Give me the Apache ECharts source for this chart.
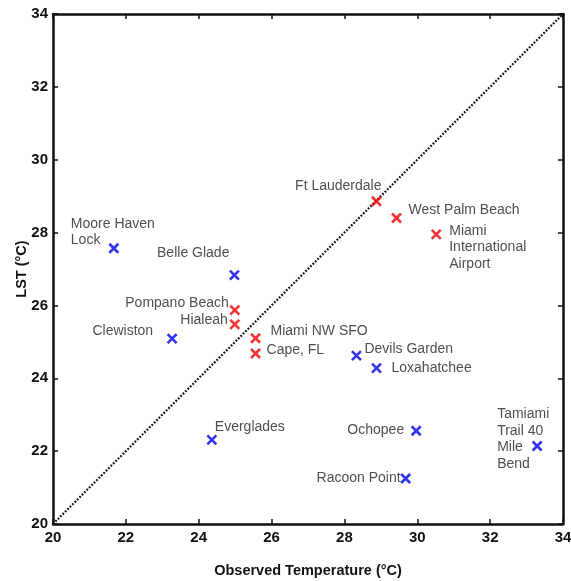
<!DOCTYPE html>
<html>
<head>
<meta charset="utf-8">
<script src="https://cdn.jsdelivr.net/npm/echarts@6/dist/echarts.min.js"></script>
<style>
html,body{margin:0;padding:0;background:#fff;}
#chart{width:571px;height:581px;}
</style>
</head>
<body>
<div id="chart"></div>
<script>
// ---- data ----
const redNames = ['Ft Lauderdale', 'West Palm Beach', 'Miami\nInternational\nAirport', 'Pompano Beach', 'Hialeah', 'Miami NW SFO', 'Cape, FL'];
const redObs   = [28.88, 29.43, 30.52, 24.99, 24.99, 25.56, 25.56];
const redLst   = [28.86, 28.40, 27.95, 25.87, 25.48, 25.10, 24.68];

const blueNames = ['Moore Haven\nLock', 'Belle Glade', 'Clewiston', 'Everglades', 'Devils Garden', 'Loxahatchee', 'Ochopee', 'Racoon Point', 'Tamiami\nTrail 40\nMile\nBend'];
const blueObs   = [21.67, 24.98, 23.27, 24.36, 28.33, 28.88, 29.97, 29.68, 33.29];
const blueLst   = [27.57, 26.83, 25.09, 22.31, 24.62, 24.28, 22.56, 21.25, 22.14];

const oneToOneX = [20, 34];
const oneToOneY = [20, 34];

const axisMin = 20, axisMax = 34, axisStep = 2;

// ---- label placement (styling only) ----
const labelPlace = {
  'Ft Lauderdale': [5, -15, 'right'],
  'West Palm Beach': [12, -8, 'left'],
  'Miami\nInternational\nAirport': [13, 13, 'left'],
  'Pompano Beach': [-6, -7, 'right'],
  'Hialeah': [-7, -4, 'right'],
  'Miami NW SFO': [15, -7, 'left'],
  'Cape, FL': [11, -3, 'left'],
  'Moore Haven\nLock': [-43, -16, 'left'],
  'Belle Glade': [-5, -22, 'right'],
  'Clewiston': [-19, -7, 'right'],
  'Everglades': [3, -13, 'left'],
  'Devils Garden': [8, -7, 'left'],
  'Loxahatchee': [15, 0, 'left'],
  'Ochopee': [-12, -1, 'right'],
  'Racoon Point': [-5, 0, 'right'],
  'Tamiami\nTrail 40\nMile\nBend': [-40, -7, 'left']
};

function buildPoints(names, xs, ys) {
  return names.map((n, i) => {
    const p = labelPlace[n] || [8, 0, 'left'];
    return {
      name: n,
      value: [xs[i], ys[i]],
      label: { offset: [p[0], p[1]], align: p[2] }
    };
  });
}

const xMark = 'path://M0,0 L10,10 M10,0 L0,10';
const FONT = 'Liberation Sans, Arial, sans-serif';
const labelStyle = {
  show: true,
  position: 'inside',
  verticalAlign: 'middle',
  formatter: '{b}',
  fontFamily: FONT,
  fontSize: 14,
  lineHeight: 16.5,
  color: '#222'
};

const tickFont = { fontFamily: FONT, fontSize: 15, fontWeight: 'bold', color: '#111' };

function mkAxis(pos, showLabel, name, gap) {
  return {
    type: 'value', min: axisMin, max: axisMax, interval: axisStep, position: pos,
    name: name || '', nameLocation: 'middle', nameGap: gap || 0, nameMoveOverlap: false,
    nameTextStyle: { fontFamily: FONT, fontSize: 14.5, fontWeight: 'bold', color: '#111' },
    axisLine: { show: true, onZero: false, lineStyle: { color: '#111', width: 2.5 } },
    axisTick: { show: true, inside: true, length: 5, lineStyle: { color: '#111', width: 1.5 } },
    axisLabel: Object.assign({ show: showLabel, margin: pos === 'bottom' ? 6 : 5, hideOverlap: false }, tickFont),
    splitLine: { show: false }
  };
}

const chart = echarts.init(document.getElementById('chart'), null, { renderer: 'canvas' });
chart.setOption({
  animation: false,
  backgroundColor: '#fff',
  grid: { left: 53, right: 8, top: 14, bottom: 57, containLabel: false, outerBoundsMode: 'none' },
  xAxis: [mkAxis('bottom', true, 'Observed Temperature (°C)', 39), mkAxis('top', false)],
  yAxis: [mkAxis('left', true, 'LST (°C)', 24), mkAxis('right', false)],
  series: [
    {
      type: 'line', xAxisIndex: 0, yAxisIndex: 0,
      data: oneToOneX.map((x, i) => [x, oneToOneY[i]]),
      showSymbol: false, symbol: 'none', silent: true, z: 1,
      lineStyle: { color: '#111', width: 2.2, type: [1.8, 1.6] }
    },
    {
      type: 'scatter', xAxisIndex: 0, yAxisIndex: 0, z: 3,
      symbol: xMark, symbolSize: 9,
      itemStyle: { color: 'transparent', borderColor: '#f00000', borderWidth: 2.6 },
      label: labelStyle,
      data: buildPoints(redNames, redObs, redLst)
    },
    {
      type: 'scatter', xAxisIndex: 0, yAxisIndex: 0, z: 3,
      symbol: xMark, symbolSize: 9,
      itemStyle: { color: 'transparent', borderColor: '#0000e6', borderWidth: 2.6 },
      label: labelStyle,
      data: buildPoints(blueNames, blueObs, blueLst)
    }
  ]
});
</script>
</body>
</html>
